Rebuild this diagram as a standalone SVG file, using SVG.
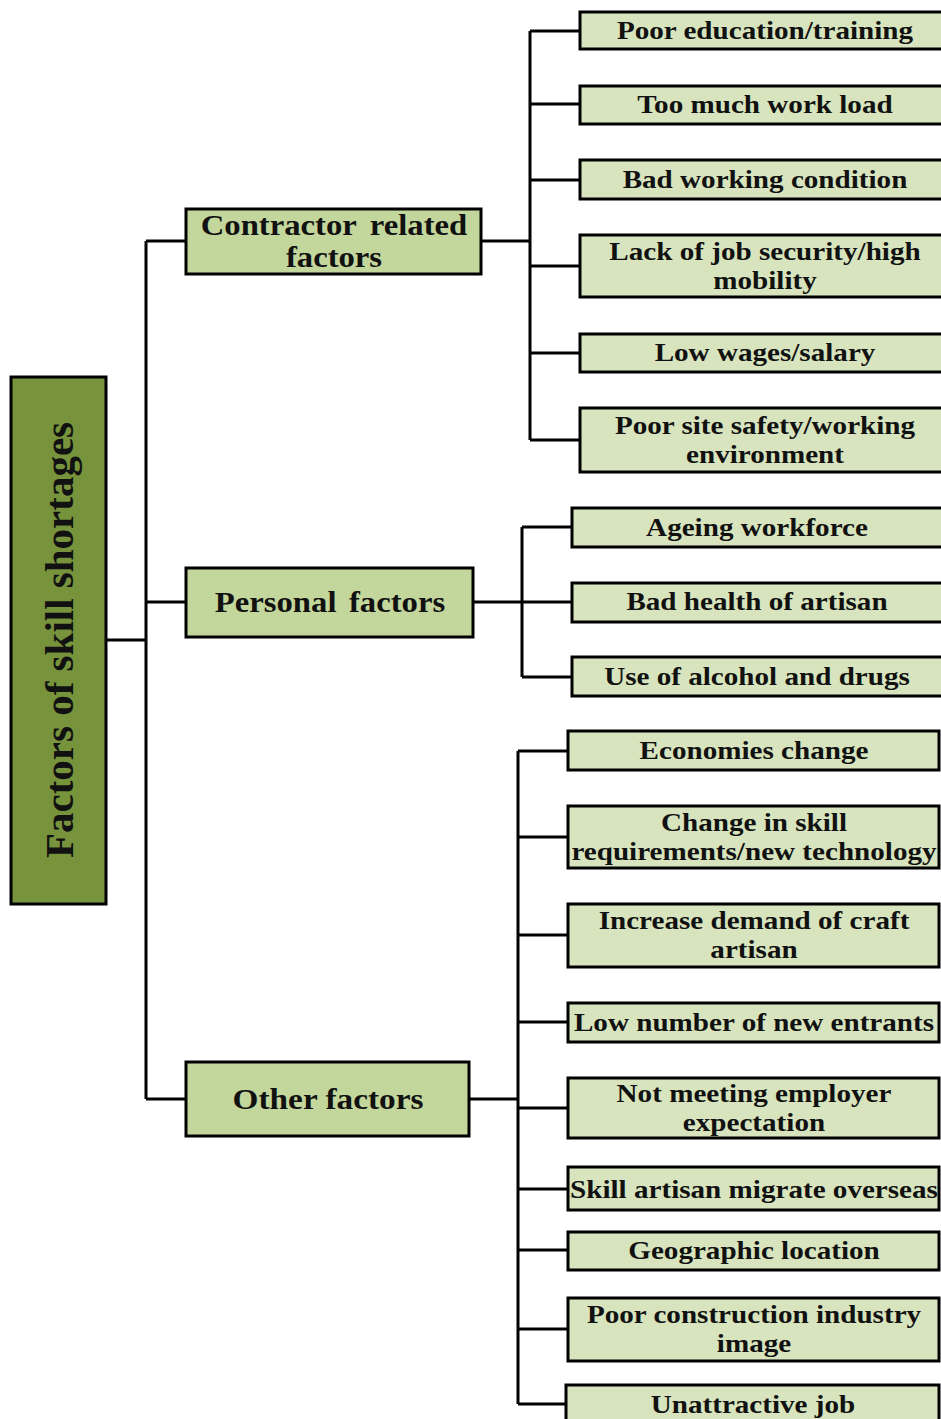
<svg xmlns="http://www.w3.org/2000/svg" width="941" height="1419" viewBox="0 0 941 1419">
<style>
.box{stroke:#000;stroke-width:3}
.root{fill:#77933c}
.mid{fill:#c3d69b}
.leaf{fill:#d7e4bd}
.t{font-family:"Liberation Serif","Times New Roman",serif;font-weight:bold;fill:#111;text-anchor:middle}
.lt{font-size:26px}
.mt{font-size:30px}
.rt{font-size:41px}
.c{fill:none;stroke:#000;stroke-width:3}
</style>
<rect width="941" height="1419" fill="#fff"/>
<g id="connectors">
<path class="c" d="M106 640H146M146 241V1099M146 241H186M146 602H186M146 1099H186"/>
<path class="c" d="M481 241H530M530 31V440M530 31H580M530 104H580M530 180H580M530 266H580M530 353H580M530 440H580"/>
<path class="c" d="M473 602H572M522 527V677M522 527H572M522 677H572"/>
<path class="c" d="M469 1099H518M518 751V1404M518 751H568M518 837H568M518 935H568M518 1022H568M518 1108H568M518 1189H568M518 1250H568M518 1329H568M518 1404H568"/>
</g>
<g id="root">
<rect class="box root" x="11" y="377" width="95" height="527"/>
<text class="t rt" transform="translate(73 640) rotate(-90)">Factors of skill shortages</text>
</g>
<g id="contractor">
<rect class="box mid" x="186" y="209" width="295" height="65"/>
<text class="t mt" transform="matrix(1.09 0 0 1 334 235)" word-spacing="5">Contractor related</text>
<text class="t mt" transform="matrix(1.09 0 0 1 334 267)">factors</text>
</g>
<g id="personal">
<rect class="box mid" x="186" y="568" width="287" height="69"/>
<text class="t mt" transform="matrix(1.09 0 0 1 330 612)" word-spacing="4">Personal factors</text>
</g>
<g id="other">
<rect class="box mid" x="186" y="1062" width="283" height="74"/>
<text class="t mt" transform="matrix(1.11 0 0 1 328 1109)">Other factors</text>
</g>
<g id="c1"><rect class="box leaf" x="580" y="12" width="364" height="37"/><text class="t lt" transform="matrix(1.12 0 0 1 765 39)">Poor education/training</text></g>
<g id="c2"><rect class="box leaf" x="580" y="86" width="364" height="38"/><text class="t lt" transform="matrix(1.12 0 0 1 765 113)">Too much work load</text></g>
<g id="c3"><rect class="box leaf" x="580" y="160" width="364" height="39"/><text class="t lt" transform="matrix(1.12 0 0 1 765 188)">Bad working condition</text></g>
<g id="c4"><rect class="box leaf" x="580" y="235" width="364" height="62"/><text class="t lt" transform="matrix(1.12 0 0 1 765 260)">Lack of job security/high</text><text class="t lt" transform="matrix(1.12 0 0 1 765 289)">mobility</text></g>
<g id="c5"><rect class="box leaf" x="580" y="334" width="364" height="38"/><text class="t lt" transform="matrix(1.12 0 0 1 765 361)">Low wages/salary</text></g>
<g id="c6"><rect class="box leaf" x="580" y="408" width="364" height="64"/><text class="t lt" transform="matrix(1.12 0 0 1 765 434)">Poor site safety/working</text><text class="t lt" transform="matrix(1.12 0 0 1 765 463)">environment</text></g>
<g id="p1"><rect class="box leaf" x="572" y="508" width="372" height="39"/><text class="t lt" transform="matrix(1.12 0 0 1 757 536)">Ageing workforce</text></g>
<g id="p2"><rect class="box leaf" x="572" y="583" width="372" height="39"/><text class="t lt" transform="matrix(1.12 0 0 1 757 610)">Bad health of artisan</text></g>
<g id="p3"><rect class="box leaf" x="572" y="657" width="372" height="39"/><text class="t lt" transform="matrix(1.12 0 0 1 757 685)">Use of alcohol and drugs</text></g>
<g id="o1"><rect class="box leaf" x="568" y="731" width="371" height="39"/><text class="t lt" transform="matrix(1.12 0 0 1 754 759)">Economies change</text></g>
<g id="o2"><rect class="box leaf" x="568" y="806" width="371" height="62"/><text class="t lt" transform="matrix(1.12 0 0 1 754 831)">Change in skill</text><text class="t lt" transform="matrix(1.12 0 0 1 754 860)">requirements/new technology</text></g>
<g id="o3"><rect class="box leaf" x="568" y="904" width="371" height="63"/><text class="t lt" transform="matrix(1.12 0 0 1 754 929)">Increase demand of craft</text><text class="t lt" transform="matrix(1.12 0 0 1 754 958)">artisan</text></g>
<g id="o4"><rect class="box leaf" x="568" y="1003" width="371" height="39"/><text class="t lt" transform="matrix(1.12 0 0 1 754 1031)">Low number of new entrants</text></g>
<g id="o5"><rect class="box leaf" x="568" y="1078" width="371" height="60"/><text class="t lt" transform="matrix(1.12 0 0 1 754 1102)">Not meeting employer</text><text class="t lt" transform="matrix(1.12 0 0 1 754 1131)">expectation</text></g>
<g id="o6"><rect class="box leaf" x="568" y="1167" width="371" height="43"/><text class="t lt" transform="matrix(1.12 0 0 1 754 1198)">Skill artisan migrate overseas</text></g>
<g id="o7"><rect class="box leaf" x="568" y="1232" width="371" height="38"/><text class="t lt" transform="matrix(1.12 0 0 1 754 1259)">Geographic location</text></g>
<g id="o8"><rect class="box leaf" x="568" y="1298" width="371" height="63"/><text class="t lt" transform="matrix(1.12 0 0 1 754 1323)">Poor construction industry</text><text class="t lt" transform="matrix(1.12 0 0 1 754 1352)">image</text></g>
<g id="o9"><rect class="box leaf" x="566" y="1385" width="373" height="40"/><text class="t lt" transform="matrix(1.12 0 0 1 753 1413)">Unattractive job</text></g>
</svg>
